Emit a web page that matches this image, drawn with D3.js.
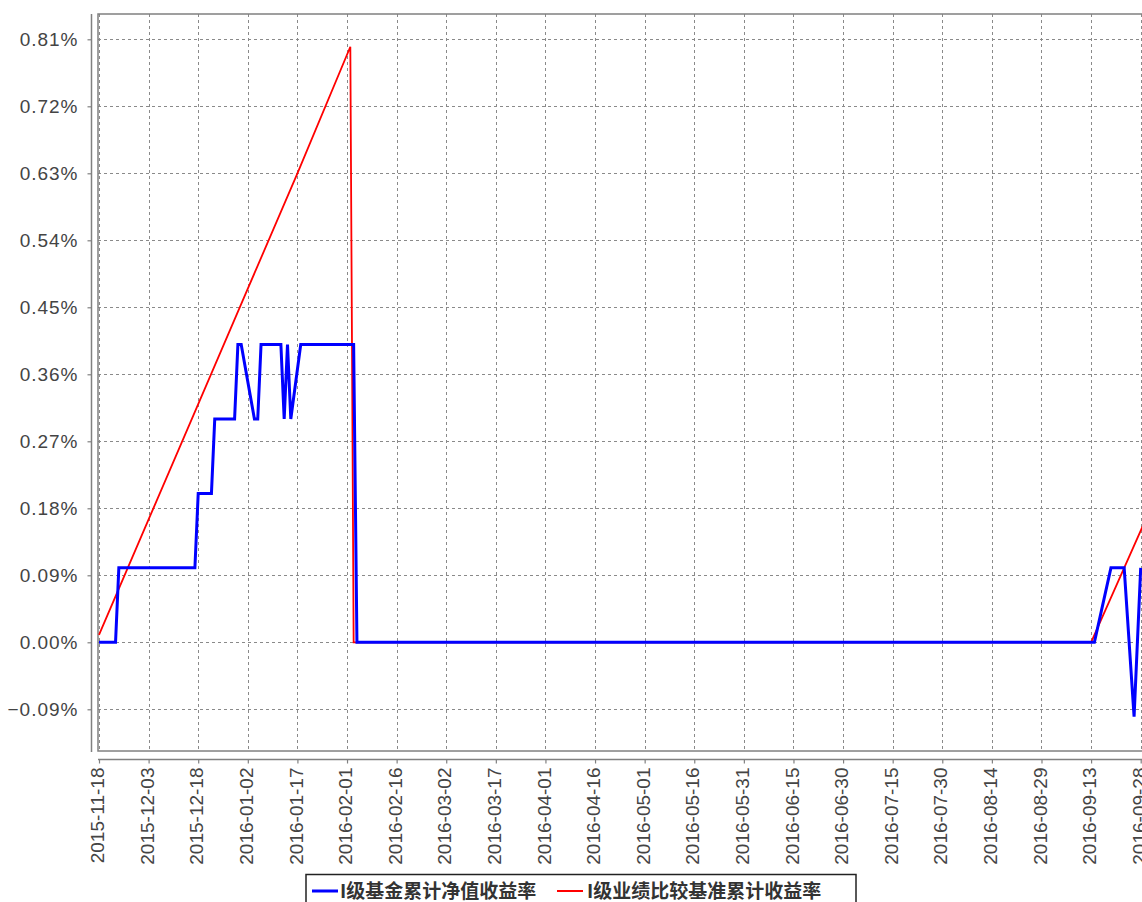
<!DOCTYPE html>
<html><head><meta charset="utf-8">
<script src="https://cdn.jsdelivr.net/npm/d3@7"></script>
<style>
html,body{margin:0;padding:0;background:#fff;}
svg{display:block;}
</style></head>
<body>
<svg id="chart" width="1142" height="902"></svg>
<script>
// ---- data ----
const blueDates  = ["2015-11-18","2015-11-23","2015-11-24","2015-12-17","2015-12-18","2015-12-22","2015-12-23","2015-12-29","2015-12-30","2015-12-31","2016-01-04","2016-01-05","2016-01-06","2016-01-12","2016-01-13","2016-01-14","2016-01-15","2016-01-18","2016-02-03","2016-02-04","2016-09-14","2016-09-19","2016-09-23","2016-09-26","2016-09-28"];
const blueValues = [0,0,0.10,0.10,0.20,0.20,0.30,0.30,0.40,0.40,0.30,0.30,0.40,0.40,0.30,0.40,0.30,0.40,0.40,0,0,0.10,0.10,-0.10,0.10];
const redDates   = ["2015-11-18","2015-12-03","2015-12-18","2016-01-02","2016-01-17","2016-02-02","2016-02-03","2016-09-13","2016-09-29"];
const redValues  = [0.01,0.165,0.32,0.475,0.63,0.80,0,0,0.16];
const xTickLabels = ["2015-11-18","2015-12-03","2015-12-18","2016-01-02","2016-01-17","2016-02-01","2016-02-16","2016-03-02","2016-03-17","2016-04-01","2016-04-16","2016-05-01","2016-05-16","2016-05-31","2016-06-15","2016-06-30","2016-07-15","2016-07-30","2016-08-14","2016-08-29","2016-09-13","2016-09-28"];
const yTickValues = [-0.09,0,0.09,0.18,0.27,0.36,0.45,0.54,0.63,0.72,0.81];
const seriesNames = ["I级基金累计净值收益率","I级业绩比较基准累计收益率"];
const seriesColors = ["#0000ff","#ff0000"];

// ---- layout ----
const parse = d3.utcParse("%Y-%m-%d");
const plotLeft = 98, plotTop = 14, plotBottom = 751, plotRight = 1160;
const x = d3.scaleUtc().domain([parse("2015-11-18"), parse("2016-09-28")]).range([99, 1140.7]);
const y = d3.scaleLinear().domain([0, 0.81]).range([642.3, 39.3]);

const svg = d3.select("#chart");
svg.append("rect").attr("width",1142).attr("height",902).attr("fill","#fff");

const defs = svg.append("defs");
defs.append("clipPath").attr("id","plotclip").append("rect")
  .attr("x",plotLeft).attr("y",plotTop).attr("width",plotRight-plotLeft).attr("height",plotBottom-plotTop);

// gridlines
const grid = svg.append("g").attr("stroke","#8a8a8a").attr("stroke-width",1).attr("stroke-dasharray","3,3");
grid.selectAll("line.h").data(yTickValues).join("line")
  .attr("x1",plotLeft).attr("x2",plotRight)
  .attr("y1",d=>Math.round(y(d))+0.5).attr("y2",d=>Math.round(y(d))+0.5);
grid.selectAll("line.v").data(xTickLabels).join("line")
  .attr("x1",d=>Math.round(x(parse(d)))+0.5).attr("x2",d=>Math.round(x(parse(d)))+0.5)
  .attr("y1",plotTop).attr("y2",plotBottom);

// plot border
svg.append("rect").attr("x",plotLeft).attr("y",plotTop)
  .attr("width",plotRight-plotLeft).attr("height",plotBottom-plotTop)
  .attr("fill","none").attr("stroke","#808080").attr("stroke-width",1.5);

// y axis (separate line)
const yAxis = d3.axisLeft(y).tickValues(yTickValues).tickSize(4).tickPadding(8)
  .tickFormat(d=>d3.format(".2f")(d)+"%");
const gy = svg.append("g").attr("transform","translate(91.5,0)").call(yAxis);
gy.select(".domain").attr("d",`M0,${plotTop}V${plotBottom+1}`).attr("stroke","#808080").attr("stroke-width",1.5);
gy.selectAll(".tick line").attr("stroke","#808080").attr("stroke-width",1.2);
gy.selectAll(".tick text").attr("fill","#444").attr("font-family","'Liberation Sans', Arial, sans-serif")
  .attr("font-size","19px").attr("letter-spacing","1px").attr("x",-13);

// x axis (separate line)
const xAxis = d3.axisBottom(x).tickValues(xTickLabels.map(parse)).tickSize(4).tickFormat(d3.utcFormat("%Y-%m-%d"));
const gx = svg.append("g").attr("transform","translate(0,759.5)").call(xAxis);
gx.select(".domain").attr("d",`M${plotLeft},0H${plotRight}`).attr("stroke","#808080").attr("stroke-width",1.5);
gx.selectAll(".tick line").attr("stroke","#808080").attr("stroke-width",1.2);
gx.selectAll(".tick text").attr("fill","#444").attr("font-family","'Liberation Sans', Arial, sans-serif")
  .attr("font-size","19px")
  .attr("transform","rotate(-90)").attr("text-anchor","end")
  .attr("x",-8).attr("y",-2).attr("dy","0.35em");

// lines
const line = d3.line().x(d=>x(d[0])).y(d=>y(d[1]));
const redData = redDates.map((d,i)=>[parse(d), redValues[i]]);
const blueData = blueDates.map((d,i)=>[parse(d), blueValues[i]]);
const lines = svg.append("g").attr("clip-path","url(#plotclip)");
lines.append("path").datum(redData).attr("d",line).attr("fill","none")
  .attr("stroke",seriesColors[1]).attr("stroke-width",1.8).attr("stroke-linejoin","miter");
lines.append("path").datum(blueData).attr("d",line).attr("fill","none")
  .attr("stroke",seriesColors[0]).attr("stroke-width",3).attr("stroke-linejoin","miter");

// legend
const lg = svg.append("g");
lg.append("rect").attr("x",306).attr("y",874.5).attr("width",550).attr("height",40)
  .attr("fill","#fff").attr("stroke","#222").attr("stroke-width",1.5);
const legendItems = [
  {name:seriesNames[0], color:seriesColors[0], lx:312, tx:340, w:3},
  {name:seriesNames[1], color:seriesColors[1], lx:557, tx:587, w:2}
];
legendItems.forEach(it=>{
  lg.append("line").attr("x1",it.lx).attr("x2",it.lx+26).attr("y1",891).attr("y2",891)
    .attr("stroke",it.color).attr("stroke-width",it.w);
  lg.append("text").attr("x",it.tx).attr("y",891).attr("dy","0.36em")
    .attr("font-family","'Noto Sans CJK SC', sans-serif").attr("font-weight","bold")
    .attr("font-size","19px").attr("fill","#333").text(it.name);
});
</script>
</body></html>
